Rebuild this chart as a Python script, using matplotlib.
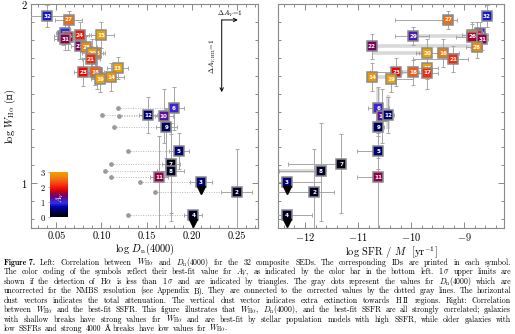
"""
Figure 7: W_Halpha vs Dn(4000) and best-fit SSFR for the composite SEDs
"""
import numpy as np
import matplotlib
matplotlib.use('Agg')
import matplotlib.pyplot as plt
import matplotlib.transforms as mtrans
from matplotlib.colors import LinearSegmentedColormap, ListedColormap, Normalize
from matplotlib.ticker import MultipleLocator


# ###
# data
# ###
ID      = [32, 27, 29, 30, 24, 15, 26, 31, 22, 28, 16, 20, 21, 13, 23, 17, 18, 14, 19,
           6, 10, 12, 9, 5, 7, 8, 11, 3, 2, 4]
DN      = [0.040, 0.064, 0.057, 0.060, 0.076, 0.100, 0.063, 0.060, 0.076, 0.083, 0.094, 0.090,
           0.088, 0.118, 0.080, 0.095, 0.093, 0.111, 0.099,
           0.180, 0.169, 0.152, 0.172, 0.186, 0.177, 0.177, 0.164, 0.210, 0.250, 0.202]
LOGW    = [1.933, 1.911, 1.821, 1.838, 1.827, 1.827, 1.816, 1.804, 1.765, 1.760, 1.726, 1.726,
           1.693, 1.642, 1.620, 1.615, 1.620, 1.592, 1.581,
           1.419, 1.374, 1.380, 1.313, 1.179, 1.106, 1.067, 1.034, 1.006, 0.950, 0.821]
SSFR    = [-8.57, -9.30, -9.96, -8.70, -8.75, -8.85, -8.85, -8.66, -10.74, -8.76, -9.40, -9.70,
           -9.21, -9.70, -10.28, -9.70, -9.96, -10.74, -10.38,
           -10.62, -10.55, -10.43, -10.62, -10.62, -11.32, -11.70, -10.62, -12.34, -11.83, -12.34]
AV      = [0.8, 2.5, 1.1, 0.9, 2.0, 2.9, 1.7, 1.5, 1.4, 2.7, 2.6, 2.9, 2.1, 2.9, 1.9, 2.1, 2.4, 2.8, 3.0,
           1.0, 1.2, 0.5, 0.4, 0.5, 0.1, 0.15, 1.5, 0.45, 0.15, 0.2]
UPLIM   = [3, 4]

DN_ERR  = [0.020, 0.015, 0.010, 0.010, 0.012, 0.014, 0.010, 0.012, 0.010, 0.012, 0.010, 0.012,
           0.010, 0.012, 0.010, 0.010, 0.010, 0.014, 0.010,
           0.011, 0.010, 0.010, 0.012, 0.011, 0.010, 0.015, 0.010, 0.012, 0.017, 0.010]
LOGW_LO = [0.06, 0.05, 0.05, 0.06, 0.07, 0.07, 0.07, 0.06, 0.07, 0.06, 0.08, 0.08, 0.07, 0.06,
           0.08, 0.09, 0.07, 0.08, 0.07,
           0.12, 0.15, 0.10, 0.17, 0.10, 0.27, 0.28, 0.30, 0.00, 0.25, 0.00]
LOGW_HI = [0.06, 0.05, 0.05, 0.06, 0.07, 0.07, 0.07, 0.06, 0.07, 0.06, 0.08, 0.08, 0.07, 0.06,
           0.08, 0.09, 0.07, 0.08, 0.07,
           0.12, 0.15, 0.10, 0.10, 0.10, 0.17, 0.27, 0.23, 0.00, 0.24, 0.00]
SSFR_LO = [0.10, 1.00, 0.35, 0.10, 0.20, 0.20, 0.30, 0.10, 0.10, 0.20, 0.45, 0.20, 0.75, 0.20,
           0.50, 0.30, 0.30, 0.10, 0.10,
           0.20, 0.10, 0.10, 0.10, 0.40, 1.00, 0.80, 0.40, 0.20, 0.70, 0.20]
SSFR_HI = [0.10, 0.17, 0.30, 0.10, 0.20, 0.20, 0.20, 0.10, 0.10, 0.10, 0.30, 0.20, 0.28, 0.20,
           0.10, 0.20, 0.10, 0.10, 0.42,
           0.20, 0.10, 0.10, 0.10, 0.00, 0.10, 0.00, 0.00, 0.64, 0.38, 0.47]

# thick gray ranges in the right panel: (id, ssfr_from, ssfr_to)
RANGE_ID   = [22, 29, 20, 23, 14, 8]
RANGE_FROM = [-10.74, -9.96, -10.74, -10.28, -10.74, -12.50]
RANGE_TO   = [-8.85, -8.95, -9.70, -9.96, -10.38, -11.70]
# thick vertical ranges in the right panel: (id, logw_from, logw_to)
VRANGE_ID   = [6, 12]
VRANGE_FROM = [1.30, 1.30]
VRANGE_TO   = [1.53, 1.49]

# uncorrected Dn(4000) values (gray dots)
UNCORR_ID = [6, 12, 10, 9, 5, 7, 8, 11, 3, 2, 4]
UNCORR_DN = [0.118, 0.101, 0.119, 0.114, 0.130, 0.111, 0.104, 0.111, 0.143, 0.159, 0.129]

XTICKS_L = [0.05, 0.10, 0.15, 0.20, 0.25]
XTICKS_R = [-12, -11, -10, -9]

CAPTION = [
    r'Left: Correlation between $W_\mathrm{H\alpha}$ and $D_\mathrm{n}(4000)$ for the 32 composite SEDs. The corresponding IDs are printed in each symbol.',
    r'The color coding of the symbols reflect their best-fit value for $A_V$, as indicated by the color bar in the bottom left. $1\,\sigma$ upper limits are',
    r'shown if the detection of H$\alpha$ is less than $1\,\sigma$ and are indicated by triangles. The gray dots represent the values for $D_\mathrm{n}(4000)$ which are',
    r'uncorrected for the NMBS resolution (see Appendix B). They are connected to the corrected values by the dotted gray lines. The horizontal',
    r'dust vectors indicates the total attenuation. The vertical dust vector indicates extra extinction towards H$\,$II regions. Right: Correlation',
    r'between $W_\mathrm{H\alpha}$ and the best-fit SSFR. This figure illustrates that $W_\mathrm{H\alpha}$, $D_\mathrm{n}(4000)$, and the best-fit SSFR are all strongly correlated; galaxies',
    r'with shallow breaks have strong values for $W_\mathrm{H\alpha}$ and are best-fit by stellar population models with high SSFR, while older galaxies with',
    r'low SSFRs and strong 4000 Å breaks have low values for $W_\mathrm{H\alpha}$.',
]

# figure variables
FIG_W, FIG_H = 515, 334
EDGE_COLOR   = '#8a8a8a'
ERR_COLOR    = '#a6a6a6'
RANGE_COLOR  = '#d9d9d9'
TICK_SIZE    = 7.5
LABEL_SIZE   = 7.5
CAP_SIZE     = 5.65

plt.rcParams['font.family'] = ['cmr10', 'DejaVu Serif']
plt.rcParams['mathtext.fontset'] = 'cm'
plt.rcParams['axes.formatter.use_mathtext'] = True

# IDL-like banded colour table for A_V
base = LinearSegmentedColormap.from_list('av', [
    (0.00, '#000010'), (0.10, '#000050'), (0.22, '#0000b0'), (0.30, '#3030e8'),
    (0.38, '#5018b0'), (0.47, '#700068'), (0.55, '#a80030'), (0.62, '#f00000'),
    (0.75, '#f84010'), (0.88, '#f07810'), (1.00, '#f0a000')])
CMAP = ListedColormap(base(np.linspace(0, 1, 28)))
NORM = Normalize(0, 3)


def setup_axes(ax, xlim, xticks, xminor, show_ylabels):
    ax.set_xlim(*xlim)
    ax.set_ylim(0.75, 2.0)
    ax.set_xticks(xticks)
    ax.xaxis.set_minor_locator(MultipleLocator(xminor))
    ax.set_yticks([1, 2])
    ax.yaxis.set_minor_locator(MultipleLocator(0.1))
    ax.tick_params(which='both', direction='in', top=True, right=True, colors=EDGE_COLOR,
                   labelcolor='black', labelsize=TICK_SIZE, width=0.7, pad=2.5)
    ax.tick_params(which='major', length=4)
    ax.tick_params(which='minor', length=2)
    if not show_ylabels:
        ax.set_yticklabels([])
    for s in ax.spines.values():
        s.set_color(EDGE_COLOR)
        s.set_linewidth(0.8)


def draw_symbols(fig, ax, xs, x_lo, x_hi):
    down = mtrans.offset_copy(ax.transData, fig=fig, y=-8, units='dots')
    for i, pid in enumerate(ID):
        x, y = xs[i], LOGW[i]
        z = 10 + 3 * i
        yerr = None if pid in UPLIM else [[LOGW_LO[i]], [LOGW_HI[i]]]
        ax.errorbar(x, y, xerr=[[x_lo[i]], [x_hi[i]]], yerr=yerr, fmt='none', ecolor=ERR_COLOR,
                    elinewidth=0.7, capsize=1.5, capthick=0.7, zorder=3)
        ax.plot(x, y, marker='s', ms=7.6, mfc=CMAP(NORM(AV[i])), mec=EDGE_COLOR, mew=1.1,
                ls='none', zorder=z)
        ax.text(x, y, str(pid), color='white', fontsize=4.1, fontweight='bold',
                family='DejaVu Sans', ha='center', va='center', zorder=z + 1)
        if pid in UPLIM:
            ax.plot(x, y, marker='v', ms=5.5, color='black', transform=down, zorder=z + 2)


def justify(fig, renderer, text, y_px, x0_px, x1_px, first=False, last=False):
    words = text.split(' ')
    items = []
    if first:
        items.append((fig.text(0, 0, 'Figure 7.', fontsize=CAP_SIZE, family=['cmb10', 'DejaVu Serif'],
                               va='baseline'), 1.6))
    for w in words:
        items.append((fig.text(0, 0, w, fontsize=CAP_SIZE, va='baseline'), 1.0))
    widths = [t.get_window_extent(renderer).width for t, _ in items]
    natural = fig.text(0, 0, ' ', fontsize=CAP_SIZE).get_window_extent(renderer).width
    weights = [k for _, k in items[1:]]
    if last:
        gaps = [natural * 1.2 * k for k in weights]
    else:
        free = (x1_px - x0_px) - sum(widths)
        gaps = [max(free * k / sum(weights), 1.0) for k in weights]
    x = x0_px
    for j, (t, _) in enumerate(items):
        t.set_position((x / FIG_W, 1 - y_px / FIG_H))
        x += widths[j] + (gaps[j] if j < len(gaps) else 0)


def main_function():
    fig = plt.figure(figsize=(FIG_W / 100, FIG_H / 100), dpi=100, facecolor='w')
    axL = fig.add_axes([31 / FIG_W, 1 - 228 / FIG_H, 227 / FIG_W, 224 / FIG_H])
    axR = fig.add_axes([278 / FIG_W, 1 - 228 / FIG_H, 226 / FIG_W, 224 / FIG_H])

    setup_axes(axL, (0.022, 0.2735), XTICKS_L, 0.01, True)
    axL.set_xticklabels(['%.2f' % v for v in XTICKS_L])
    setup_axes(axR, (-12.51, -8.25), XTICKS_R, 0.2, False)

    # left: uncorrected Dn(4000) dots with dotted connectors
    for pid, dn0 in zip(UNCORR_ID, UNCORR_DN):
        i = ID.index(pid)
        axL.plot([dn0, DN[i]], [LOGW[i], LOGW[i]], ls=(0, (1, 1.5)), color='#b8b8b8', lw=0.7, zorder=1)
        axL.plot(dn0, LOGW[i], 'o', ms=2.4, color='#9a9a9a', zorder=2)

    draw_symbols(fig, axL, DN, DN_ERR, DN_ERR)

    # right: thick gray ranges
    for pid, a, b in zip(RANGE_ID, RANGE_FROM, RANGE_TO):
        y = LOGW[ID.index(pid)]
        axR.plot([a, b], [y, y], color=RANGE_COLOR, lw=2.6, solid_capstyle='butt', zorder=2)
    for pid, a, b in zip(VRANGE_ID, VRANGE_FROM, VRANGE_TO):
        x = SSFR[ID.index(pid)]
        axR.plot([x, x], [a, b], color=RANGE_COLOR, lw=2.6, solid_capstyle='butt', zorder=2)

    draw_symbols(fig, axR, SSFR, SSFR_LO, SSFR_HI)

    # dust vectors
    axL.annotate('', xy=(0.2511, 1.911), xytext=(0.2333, 1.911),
                 arrowprops=dict(arrowstyle='->', lw=0.7, color='black', shrinkA=0, shrinkB=0,
                                 mutation_scale=6))
    axL.annotate('', xy=(0.2333, 1.508), xytext=(0.2333, 1.911),
                 arrowprops=dict(arrowstyle='->', lw=0.7, color='black', shrinkA=0, shrinkB=0,
                                 mutation_scale=6))
    axL.text(0.2425, 1.945, r'$\Delta A_V\!=\!1$', fontsize=5.2, ha='center', va='center')
    axL.text(0.2238, 1.71, r'$\Delta A_{V,\mathrm{HII}}\!=\!1$', fontsize=5.2, rotation=90,
             ha='center', va='center')

    # colour bar inset
    cax = axL.inset_axes([0.084, 0.049, 0.079, 0.20])
    cax.imshow(np.linspace(0, 3, 256)[:, None], aspect='auto', cmap=CMAP, norm=NORM,
               origin='lower', extent=[0, 1, 0, 3])
    cax.set_xticks([])
    cax.set_yticks([0, 1, 2, 3])
    cax.tick_params(axis='y', direction='out', length=1.5, width=0.5, labelsize=6.2, pad=1.5,
                    colors=EDGE_COLOR, labelcolor='black')
    for s in cax.spines.values():
        s.set_visible(False)
    cax.text(0.55, 1.35, r'$A_V$', color='white', fontsize=5.5, rotation=90, ha='center', va='center')

    # axis labels
    axL.set_xlabel(r'log $D_\mathrm{n}(4000)$', fontsize=LABEL_SIZE, labelpad=0.5)
    axL.set_ylabel(r'log $W_\mathrm{H\alpha}$ (Å)', fontsize=LABEL_SIZE, labelpad=2)
    axR.set_xlabel(r'log SFR / $M$  [yr$^{-1}$]', fontsize=LABEL_SIZE, labelpad=0.5)

    # caption, justified line by line
    renderer = fig.canvas.get_renderer()
    for k, line in enumerate(CAPTION):
        justify(fig, renderer, line, 265 + 9.45 * k, 4, 511,
                first=(k == 0), last=(k == len(CAPTION) - 1))

    fig.savefig('out.png', dpi=100)
    plt.close(fig)


if __name__ == '__main__':
    main_function()
